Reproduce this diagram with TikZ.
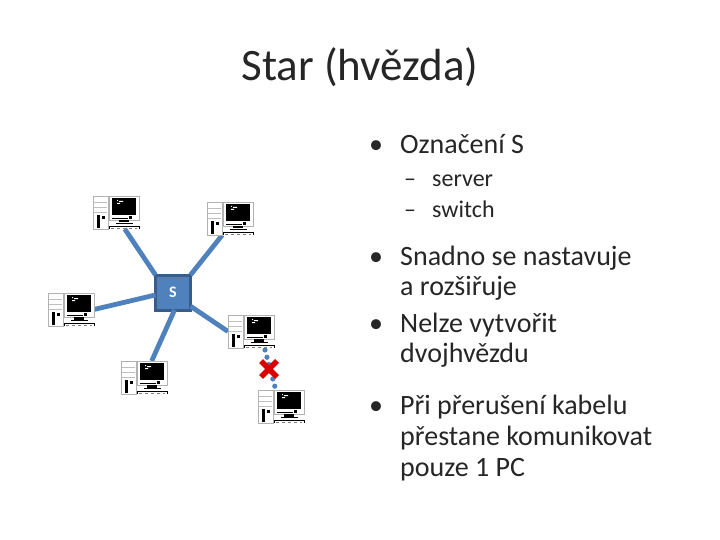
\documentclass[tikz,border=0pt]{standalone}
\usepackage{fontspec}
\setmainfont{Carlito}
\usetikzlibrary{calc}
\definecolor{lnk}{HTML}{4F81BD}
\definecolor{lnkd}{HTML}{385D8A}
\definecolor{txt}{HTML}{262626}
\tikzset{
  pcbox/.style={minimum width=46pt,minimum height=33pt,inner sep=0pt,outer sep=0pt},
  wire/.style={draw=lnk,line width=4.8pt},
  cut/.style={draw=lnk,line width=5.2pt,line cap=round,dash pattern=on 0pt off 7.5pt},
  crossbar/.style={draw=red!85!black,line width=5.5pt},
  big/.style={anchor=base west,text=txt,font=\fontsize{28}{28}\selectfont,inner sep=0pt},
  small/.style={anchor=base west,text=txt,font=\fontsize{24}{24}\selectfont,inner sep=0pt},
  pc/.pic={
    % tower
    \fill[white] (0,0) rectangle (15,33);
    \draw[gray!60,line width=.6pt] (0,0) rectangle (15,33);
    \draw[gray!50,line width=.6pt] (1,6) -- (14,6) (1,11) -- (14,11) (1,16) -- (14,16);
    \fill[black] (3.5,19) rectangle (7,32);
    \fill[black] (9,20) rectangle (12,23);
    % monitor
    \fill[white] (16,0) rectangle (46,23);
    \draw[gray!60,line width=.6pt] (16,0) rectangle (46,24);
    \fill[black] (19,2) rectangle (43,19);
    \fill[white] (24,4) rectangle (25,5) (26,5) rectangle (30,6) (24,7) rectangle (27,8);
    \fill[black] (36,20) rectangle (39,23);
    % stand and keyboard
    \draw[black,line width=.8pt] (19,22.5) -- (35,22.5);
    \fill[black] (26,24) rectangle (36,26.5);
    \draw[black,line width=.8pt] (23,27.5) -- (40,27.5);
    \draw[black,line width=.7pt] (16,33) -- (16,30.5) -- (46,30.5) -- (46,33);
    \draw[gray,line width=.5pt,dashed] (18,32) -- (44,32);
  }
}
\begin{document}
\begin{tikzpicture}[x=1pt,y=-1pt]
\useasboundingbox (0,0) rectangle (720,540);
\fill[white] (0,0) rectangle (720,540);
% computers
\node[pcbox] (pc1) at (116,212.5) {};
\node[pcbox] (pc2) at (230,218.5) {};
\node[pcbox] (pc3) at (71,309.5) {};
\node[pcbox] (pc4) at (251,331.5) {};
\node[pcbox] (pc5) at (144,377.5) {};
\node[pcbox] (pc6) at (281,406.5) {};
\node[draw=lnkd,fill=lnk,line width=3pt,minimum size=35pt,inner sep=0pt,outer sep=0pt,text=white,font=\fontsize{16}{16}\selectfont\bfseries] (s) at (173,292.5) {S};
% connectors
\draw[wire] (s.135) -- (pc1.-62);
\draw[wire] (s.45) -- (pc2.-115);
\draw[wire] (s.-172) -- (pc3.east);
\draw[wire] (s.-38) -- (pc4.west);
\draw[wire] (s.-85) -- (pc5.65);
\draw[cut] ($(pc4.south)+(14,2)$) -- ($(pc6.north)+(-6,-3)$);
\foreach \n/\xp/\yp in {pc1/93/196,pc2/207/202,pc3/48/293,pc4/228/315,pc5/121/361,pc6/258/390}
  \pic at (\xp,\yp) {pc};
% failure mark
\coordinate (xm) at (269,369);
\draw[crossbar] ($(xm)+(-8,-8)$) -- ($(xm)+(8,8)$);
\draw[crossbar] ($(xm)+(8,-8)$) -- ($(xm)+(-8,8)$);
% title
\node[anchor=base,text=txt,font=\fontsize{45}{45}\selectfont,inner sep=0pt] (title) at (360,81) {Star (hvězda)};
% text
\node[big] (b1) at (369,154) {•};
\node[big] (t1) at (400,154) {Označení S};
\node[small] (d1) at (404,187) {–};
\node[small] (t2) at (432,187) {server};
\node[small] (d2) at (404,218) {–};
\node[small] (t3) at (432,218) {switch};
\node[big] (b2) at (369,265) {•};
\node[big] (t4) at (400,265) {Snadno se nastavuje};
\node[big] (t5) at (400,295) {a rozšiřuje};
\node[big] (b3) at (369,332) {•};
\node[big] (t6) at (400,332) {Nelze vytvořit};
\node[big] (t7) at (400,362) {dvojhvězdu};
\node[big] (b4) at (369,414) {•};
\node[big] (t8) at (400,414) {Při přerušení kabelu};
\node[big] (t9) at (400,445) {přestane komunikovat};
\node[big] (t10) at (400,476) {pouze 1 PC};
\end{tikzpicture}
\end{document}
